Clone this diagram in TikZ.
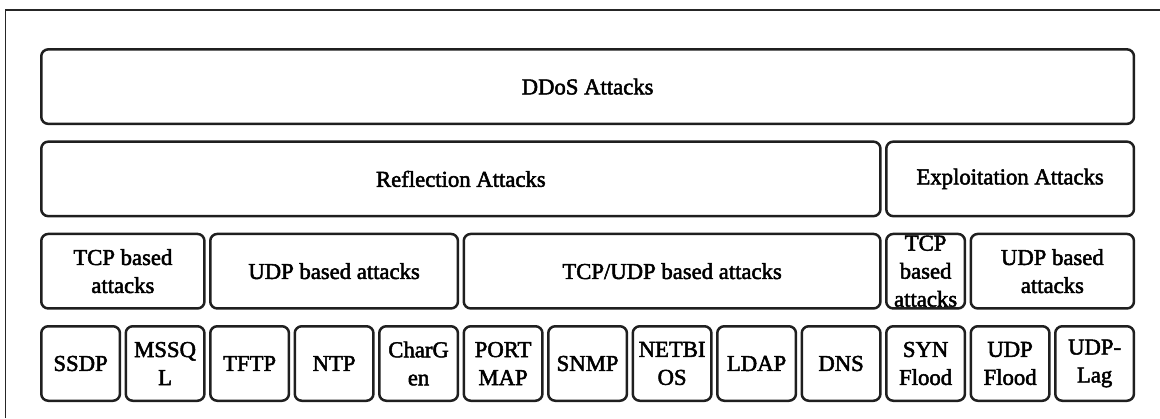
\documentclass[tikz,border=0pt]{standalone}
\usepackage{fontspec}
\setmainfont{Liberation Serif}[RawFeature={embolden=2.2}]
\usepackage{tikz}
\usetikzlibrary{positioning}

\begin{document}
\begin{tikzpicture}[
  x=1pt,y=-1pt,
  node distance=5.8pt,
  box/.style={draw=black!88,line width=2.5pt,rounded corners=7pt,align=center,
    inner sep=0pt,outer sep=0pt,minimum height=74.5pt,
    font=\fontsize{22.7}{28}\selectfont},
  leaf/.style={box,minimum width=78.7pt}
]
\useasboundingbox (0,0) rectangle (1160,418);
\draw[line width=1.4pt,black!85] (5.5,418) -- (5.5,10) -- (1160,10);

% bottom row
\node[leaf] (ssdp) at (80.6,363.5) {SSDP};
\node[leaf,right=of ssdp] (mssql) {MSSQ\\L};
\node[leaf,right=of mssql] (tftp) {TFTP};
\node[leaf,right=of tftp] (ntp) {NTP};
\node[leaf,right=of ntp] (chargen) {CharG\\en};
\node[leaf,right=of chargen] (portmap) {PORT\\MAP};
\node[leaf,right=of portmap] (snmp) {SNMP};
\node[leaf,right=of snmp] (netbios) {NETBI\\OS};
\node[leaf,right=of netbios] (ldap) {LDAP};
\node[leaf,right=of ldap] (dns) {DNS};
\node[leaf,right=of dns] (syn) {SYN\\Flood};
\node[leaf,right=of syn] (udpflood) {UDP\\Flood};
\node[leaf,right=of udpflood] (udplag) {UDP-\\Lag};

% protocol groups
\node[box,minimum width=163.2pt] (tcpref) at (122.85,271.2) {TCP based\\attacks};
\node[box,minimum width=247.7pt] (udpref) at (334.1,271.2) {UDP based attacks};
\node[box,minimum width=416.7pt] (mixref) at (672.1,271.2) {TCP/UDP based attacks};
\node[leaf] (tcpexp) at (925.6,271.2) {TCP\\based\\attacks};
\node[box,minimum width=163.2pt] (udpexp) at (1052.35,271.2) {UDP based\\attacks};

% attack classes
\node[box,minimum width=839.2pt] (refl) at (460.85,178.9) {Reflection Attacks};
\node[box,minimum width=247.7pt] (expl) at (1010.1,178.9) {Exploitation Attacks};

\node[box,minimum width=1092.7pt] (ddos) at (587.6,86.6) {DDoS Attacks};
\end{tikzpicture}
\end{document}
